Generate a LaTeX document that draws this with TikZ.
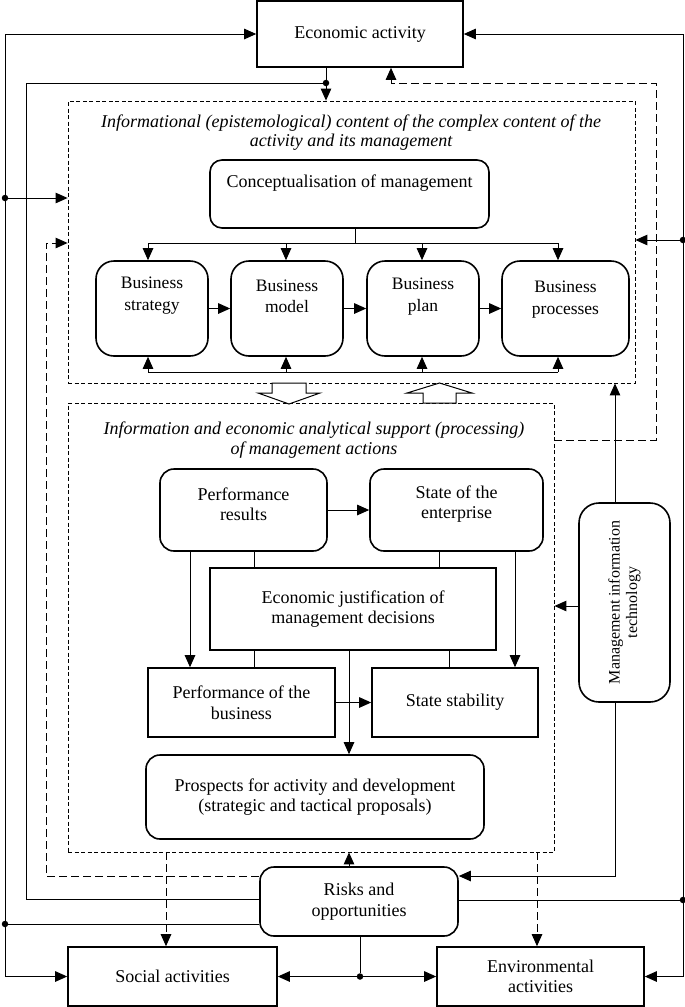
\documentclass[tikz,border=0pt]{standalone}
\usepackage{fontspec}
\setmainfont{Liberation Serif}
\usetikzlibrary{arrows.meta,calc}
\tikzset{
  conn/.style={line width=1pt, draw=black},
  arr/.style={conn, -{Triangle[length=12pt,width=10.5pt]}},
  darr/.style={arr, dash pattern=on 8pt off 4pt},
  dline/.style={conn, dash pattern=on 8pt off 4pt},
  dframe/.style={draw, line width=0.8pt, dash pattern=on 4pt off 2.5pt, inner sep=0pt},
  sbox/.style={draw, line width=1.6pt, inner sep=2pt, align=center, font=\fontsize{18}{20.5}\selectfont},
  rbox/.style={sbox, rounded corners=14pt},
  txt/.style={inner sep=0pt, align=center, font=\fontsize{18}{20.5}\selectfont},
  btxt/.style={txt, font=\fontsize{17.5}{21.5}\selectfont},
  ttl/.style={txt, font=\fontsize{18}{19.5}\selectfont\itshape},
  jdot/.style={circle, fill=black, inner sep=0pt, minimum size=6.5pt},
  hollow/.style={draw, line width=1pt, fill=white},
}
\begin{document}
\begin{tikzpicture}[x=1pt,y=-1pt]
\useasboundingbox (0,0) rectangle (685,1007);

% ---- main boxes ----
\node[sbox, minimum width=206pt, minimum height=66pt] (econ) at (360,34) {Economic activity};

\node[dframe, minimum width=567pt, minimum height=282pt] (f1) at (351.5,242) {};
\node[ttl] (t1) at (351,132.5) {Informational (epistemological) content of the complex content of the\\activity and its management};

\node[rbox, rounded corners=12pt, minimum width=279pt, minimum height=68pt] (concept) at (349.5,194) {};
\node[txt] (concept-t) at (349.5,183) {Conceptualisation of management};

\node[rbox, rounded corners=18pt, minimum width=112pt, minimum height=95pt] (bs) at (152,308.5) {};
\node[btxt] (bs-t) at (152,295.5) {Business\\strategy};
\node[rbox, rounded corners=18pt, minimum width=112pt, minimum height=95pt] (bm) at (287,308.5) {};
\node[btxt] (bm-t) at (287,296.5) {Business\\model};
\node[rbox, rounded corners=18pt, minimum width=112pt, minimum height=95pt] (bp) at (423,308.5) {};
\node[btxt] (bp-t) at (423,296.5) {Business\\plan};
\node[rbox, rounded corners=18pt, minimum width=127pt, minimum height=95pt] (bpr) at (565.5,308.5) {};
\node[btxt] (bpr-t) at (565.5,299.5) {Business\\processes};

\node[dframe, minimum width=486pt, minimum height=449pt] (f2) at (311,627.5) {};
\node[ttl] (t2) at (314,440) {Information and economic analytical support (processing)\\of management actions};

\node[rbox, minimum width=167pt, minimum height=82pt] (pr) at (243.5,510) {};
\node[txt] (pr-t) at (243.5,504) {Performance\\results};
\node[rbox, minimum width=173pt, minimum height=82pt] (se) at (456.5,510) {};
\node[txt] (se-t) at (456.5,504) {State of the\\enterprise};

\node[sbox, minimum width=286pt, minimum height=82pt] (ej) at (353,609) {Economic justification of\\management decisions};
\node[sbox, minimum width=187pt, minimum height=69pt] (pb) at (241.5,702.5) {Performance of the\\business};
\node[sbox, minimum width=166pt, minimum height=69pt] (ss) at (455,702.5) {State stability};
\node[rbox, minimum width=338pt, minimum height=84pt] (pros) at (315,797) {Prospects for activity and development\\(strategic and tactical proposals)};

\node[rbox, minimum width=198pt, minimum height=69pt] (risks) at (359,901.5) {Risks and\\opportunities};
\node[sbox, minimum width=209pt, minimum height=59pt] (social) at (172.5,976.5) {Social activities};
\node[sbox, minimum width=207pt, minimum height=59pt] (env) at (540.5,976.5) {Environmental\\activities};

\node[rbox, rounded corners=20pt, minimum width=91pt, minimum height=199pt] (mit) at (624.5,602.5) {};
\node[txt, rotate=90, font=\fontsize{16}{17.5}\selectfont] (mit-t) at (624.5,602.5) {Management information\\technology};

% ---- informational block connectors ----
\coordinate (c1) at (355,243);
\coordinate (ta1) at (148,243);
\coordinate (ta2) at (286,243);
\coordinate (ta3) at (422,243);
\coordinate (ta4) at (558,243);
\draw[conn] (concept.south -| c1) -- (c1);
\draw[conn] (ta1) -- (ta4);
\draw[arr] (ta1) -- (ta1 |- bs.north);
\draw[arr] (ta2) -- (ta2 |- bm.north);
\draw[arr] (ta3) -- (ta3 |- bp.north);
\draw[arr] (ta4) -- (ta4 |- bpr.north);

\coordinate (ba1) at (148,372);
\coordinate (ba2) at (286,372);
\coordinate (ba3) at (422,372);
\coordinate (ba4) at (558,372);
\draw[conn] (ba1) -- (ba4);
\draw[arr] (ba1) -- (ba1 |- bs.south);
\draw[arr] (ba2) -- (ba2 |- bm.south);
\draw[arr] (ba3) -- (ba3 |- bp.south);
\draw[arr] (ba4) -- (ba4 |- bpr.south);

\draw[arr] (bs.east) -- (bm.west);
\draw[arr] (bm.east) -- (bp.west);
\draw[arr] (bp.east) -- (bpr.west);

% ---- hollow arrows between blocks ----
\draw[hollow] (272,383) -- (306,383) -- (306,393) -- (320,393) -- (289,404) -- (258,393) -- (272,393) -- cycle;
\draw[hollow] (423,403) -- (456,403) -- (456,393) -- (472,393) -- (439.5,383) -- (407,393) -- (423,393) -- cycle;

% ---- analytical block connectors ----
\coordinate (gA) at (190,0);
\coordinate (gB) at (254,0);
\coordinate (gC) at (439,0);
\coordinate (gD) at (515,0);
\coordinate (gF) at (449,0);
\coordinate (gG) at (349,0);
\draw[arr] (pr.east) -- (se.west);
\draw[arr] (pr.south -| gA) -- (pb.north -| gA);
\draw[conn] (pr.south -| gB) -- (ej.north -| gB);
\draw[conn] (se.south -| gC) -- (ej.north -| gC);
\draw[arr] (se.south -| gD) -- (ss.north -| gD);
\draw[conn] (ej.south -| gB) -- (pb.north -| gB);
\draw[conn] (ej.south -| gF) -- (ss.north -| gF);
\draw[arr] (ej.south -| gG) -- (pros.north -| gG);
\draw[arr] (pb.east) -- (ss.west);
\draw[arr] (risks.north -| gG) -- (f2.south -| gG);

% ---- risks to bottom activities ----
\coordinate (gH) at (360,0);
\node[jdot] (d5) at (360,976.5) {};
\draw[conn] (risks.south -| gH) -- (d5);
\draw[arr] (d5) -- (social.east);
\draw[arr] (d5) -- (env.west);
\coordinate (gI) at (166,0);
\coordinate (gJ) at (537,0);
\draw[darr] (f2.south -| gI) -- (social.north -| gI);
\draw[darr] (f2.south -| gJ) -- (env.north -| gJ);

% ---- outer left ----
\coordinate (LT) at (5,34);
\coordinate (LB) at (5,976.5);
\draw[arr] (LT) -- (econ.west);
\draw[arr] (LT) -- (LB) -- (social.west);
\node[jdot] (d1) at (5,198) {};
\draw[arr] (d1) -- (f1.west |- d1);
\node[jdot] (d2) at (5,924) {};
\draw[conn] (risks.west |- d2) -- (d2);

\coordinate (gK) at (326,0);
\node[jdot] (d3) at (326,83) {};
\draw[arr] (econ.south -| gK) -- (f1.north -| gK);
\coordinate (L2a) at (26,83);
\coordinate (L2b) at (26,899);
\draw[conn] (risks.west |- L2b) -- (L2b) -- (L2a) -- (d3);

\coordinate (L3a) at (46,243);
\coordinate (L3b) at (46,876);
\draw[darr] (risks.west |- L3b) -- (L3b) -- (L3a) -- (f1.west |- L3a);

% ---- outer right ----
\coordinate (RT) at (683,34);
\coordinate (RB) at (683,976.5);
\draw[arr] (RT) -- (econ.east);
\draw[arr] (RT) -- (RB) -- (env.east);
\node[jdot] (d4) at (683,240) {};
\draw[arr] (d4) -- (f1.east |- d4);
\node[jdot] (d6) at (683,900) {};
\draw[conn] (risks.east |- d6) -- (d6);

\coordinate (R2a) at (656,440);
\coordinate (R2b) at (656,83);
\coordinate (gL) at (391,0);
\draw[darr] (f2.east |- R2a) -- (R2a) -- (R2b) -- (R2b -| gL) -- (econ.south -| gL);

% ---- management information technology ----
\coordinate (gM) at (615,0);
\coordinate (m1) at (0,606);
\coordinate (M3) at (615,876);
\draw[arr] (mit.north -| gM) -- (f1.south -| gM);
\draw[arr] (mit.west |- m1) -- (f2.east |- m1);
\draw[arr] (mit.south -| gM) -- (M3) -- (risks.east |- M3);

\end{tikzpicture}
\end{document}
